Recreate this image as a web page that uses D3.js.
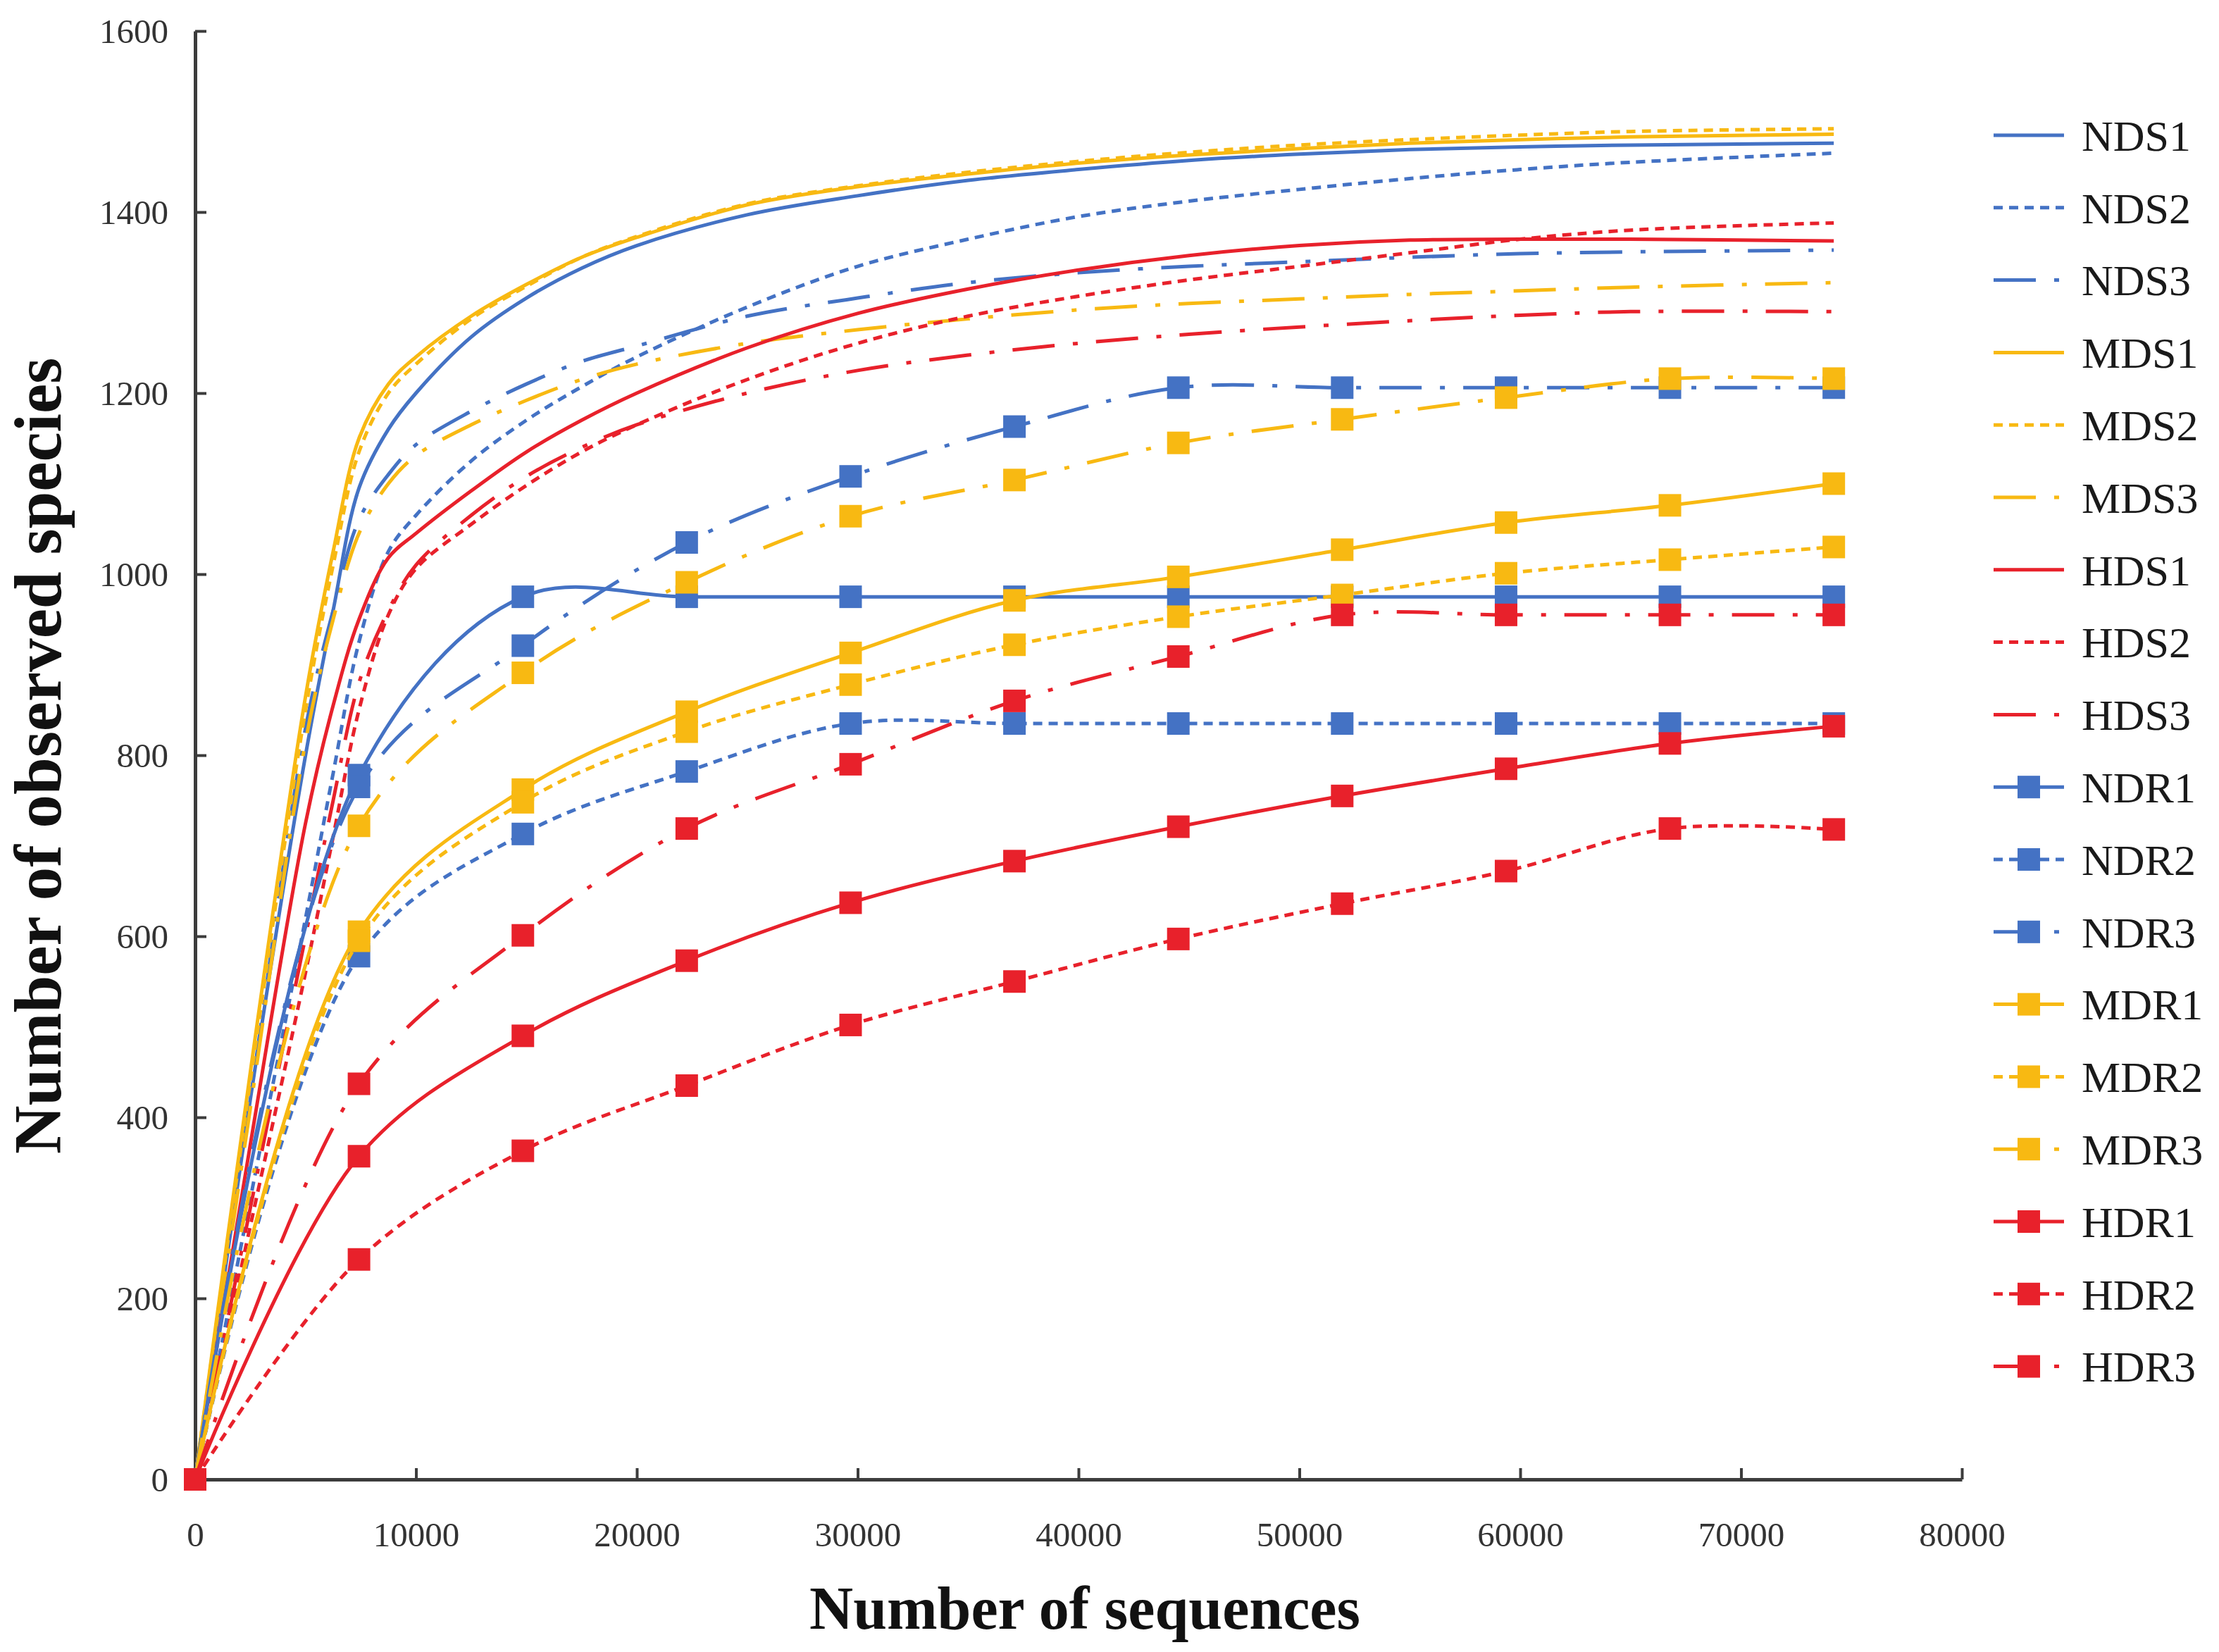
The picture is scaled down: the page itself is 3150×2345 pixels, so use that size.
<!DOCTYPE html>
<html>
<head>
<meta charset="utf-8">
<script src="https://cdn.jsdelivr.net/npm/d3@7"></script>
<style>
  html, body { margin: 0; padding: 0; background: #ffffff; }
  svg { display: block; }
</style>
</head>
<body>
<script>
// ---------------- DATA ----------------
const xTicks = [0, 10000, 20000, 30000, 40000, 50000, 60000, 70000, 80000];
const yTicks = [0, 200, 400, 600, 800, 1000, 1200, 1400, 1600];

// sequencing depths for the smooth (S) curves
const depthS = [0, 2500, 5000, 6250, 7420, 8750, 10000, 12500, 15000, 17500, 20000,
                25000, 30000, 35000, 40000, 45000, 50000, 55000, 60000, 65000, 74200];
// sequencing depths for the marker (R) curves
const depthR = [0, 7420, 14840, 22260, 29680, 37100, 44520, 51940, 59360, 66780, 74200];

const NDS1 = [0, 420, 800, 960, 1095, 1160, 1200, 1262, 1305, 1338, 1363, 1397, 1418, 1435, 1447, 1457, 1464, 1469, 1472, 1474, 1476];
const NDS2 = [0, 310, 620, 780, 925, 1025, 1065, 1125, 1170, 1207, 1240, 1295, 1340, 1370, 1395, 1412, 1425, 1437, 1447, 1455, 1465];
const NDS3 = [0, 420, 830, 960, 1060, 1110, 1143, 1180, 1210, 1235, 1252, 1285, 1305, 1322, 1333, 1340, 1345, 1350, 1354, 1356, 1358];
const MDS1 = [0, 450, 865, 1025, 1150, 1210, 1240, 1285, 1320, 1350, 1372, 1408, 1428, 1442, 1454, 1463, 1470, 1476, 1480, 1483, 1486];
const MDS2 = [0, 440, 850, 1010, 1135, 1200, 1232, 1282, 1318, 1350, 1373, 1409, 1429, 1444, 1456, 1466, 1474, 1480, 1485, 1489, 1492];
const MDS3 = [0, 410, 815, 950, 1045, 1100, 1131, 1165, 1192, 1215, 1232, 1255, 1270, 1282, 1292, 1299, 1304, 1309, 1313, 1317, 1322];
const HDS1 = [0, 370, 725, 855, 950, 1018, 1045, 1092, 1135, 1170, 1200, 1250, 1288, 1315, 1336, 1352, 1363, 1369, 1370, 1370, 1368];
const HDS2 = [0, 280, 560, 710, 850, 955, 1006, 1055, 1098, 1135, 1165, 1215, 1255, 1285, 1307, 1325, 1340, 1355, 1370, 1380, 1388];
const HDS3 = [0, 300, 600, 750, 880, 960, 1010, 1065, 1108, 1140, 1165, 1200, 1225, 1242, 1255, 1265, 1273, 1280, 1286, 1290, 1290];

const NDR1 = [0, 778, 975, 975, 975, 975, 975, 975, 975, 975, 975];
const NDR2 = [0, 578, 713, 782, 835, 835, 835, 835, 835, 835, 835];
const NDR3 = [0, 765, 921, 1035, 1108, 1163, 1206, 1206, 1206, 1206, 1206];
const MDR1 = [0, 605, 762, 848, 913, 971, 997, 1027, 1057, 1076, 1100];
const MDR2 = [0, 595, 748, 826, 878, 922, 953, 977, 1001, 1016, 1030];
const MDR3 = [0, 722, 891, 991, 1064, 1104, 1145, 1171, 1195, 1216, 1216];
const HDR1 = [0, 357, 490, 573, 637, 683, 721, 755, 785, 813, 832];
const HDR2 = [0, 243, 363, 435, 502, 550, 597, 636, 672, 719, 718];
const HDR3 = [0, 437, 601, 719, 790, 860, 909, 955, 955, 955, 955];

const seriesNames = ["NDS1","NDS2","NDS3","MDS1","MDS2","MDS3","HDS1","HDS2","HDS3",
                     "NDR1","NDR2","NDR3","MDR1","MDR2","MDR3","HDR1","HDR2","HDR3"];
const seriesValues = [NDS1, NDS2, NDS3, MDS1, MDS2, MDS3, HDS1, HDS2, HDS3,
                      NDR1, NDR2, NDR3, MDR1, MDR2, MDR3, HDR1, HDR2, HDR3];

// ---------------- STYLE ----------------
const W = 3150, H = 2345;
const colorBy = { N: "#4472c4", M: "#f8b912", H: "#e8212b" };
const dashBy = { "1": null, "2": "13,9", "3": "60,26,7,26" };
const FONT = "'Liberation Serif', 'Times New Roman', serif";

const series = seriesNames.map((name, i) => {
  const isR = name[2] === "R";
  const xs = isR ? depthR : depthS;
  return {
    name,
    marker: isR,
    color: colorBy[name[0]],
    dash: dashBy[name[3]],
    points: xs.map((d, j) => ({ x: d, y: seriesValues[i][j] }))
  };
});

const svg = d3.select("body").append("svg")
  .attr("width", W).attr("height", H)
  .attr("viewBox", `0 0 ${W} ${H}`);

svg.append("rect").attr("width", W).attr("height", H).attr("fill", "#fff");

const x = d3.scaleLinear().domain([0, 80000]).range([277, 2785]);
const y = d3.scaleLinear().domain([0, 1600]).range([2100, 44]);

// ---------------- AXES ----------------
const axisColor = "#3c3c3c";
const xAxis = svg.append("g")
  .attr("transform", `translate(0,${y(0)})`)
  .call(d3.axisBottom(x).tickValues(xTicks).tickFormat(d3.format("d"))
        .tickSizeInner(-16).tickSizeOuter(0).tickPadding(60));
const yAxis = svg.append("g")
  .attr("transform", `translate(${x(0)},0)`)
  .call(d3.axisLeft(y).tickValues(yTicks).tickFormat(d3.format("d"))
        .tickSizeInner(-16).tickSizeOuter(0).tickPadding(38));

[xAxis, yAxis].forEach(g => {
  g.select(".domain").attr("stroke", axisColor).attr("stroke-width", 5);
  g.selectAll(".tick line").attr("stroke", axisColor).attr("stroke-width", 4);
  g.selectAll(".tick text")
    .attr("fill", "#333")
    .style("font-family", FONT)
    .style("font-size", "49px");
});
yAxis.selectAll(".tick text").attr("dy", "0.34em");

// ---------------- LINES ----------------
const line = d3.line()
  .x(d => x(d.x))
  .y(d => y(d.y))
  .curve(d3.curveCatmullRom.alpha(0.5));

const plot = svg.append("g");
series.forEach(s => {
  plot.append("path")
    .datum(s.points)
    .attr("d", line)
    .attr("fill", "none")
    .attr("stroke", s.color)
    .attr("stroke-width", 5)
    .attr("stroke-dasharray", s.dash)
    .attr("stroke-linejoin", "round");
  if (s.marker) {
    plot.selectAll(null)
      .data(s.points)
      .enter().append("rect")
      .attr("x", d => x(d.x) - 16)
      .attr("y", d => y(d.y) - 16)
      .attr("width", 32)
      .attr("height", 32)
      .attr("fill", s.color);
  }
});

// ---------------- AXIS TITLES ----------------
svg.append("text")
  .attr("x", 1540).attr("y", 2312)
  .attr("text-anchor", "middle")
  .style("font-family", FONT)
  .style("font-weight", "bold")
  .style("font-size", "86px")
  .attr("fill", "#111")
  .text("Number of sequences");

svg.append("text")
  .attr("transform", "translate(86,1073) rotate(-90)")
  .attr("text-anchor", "middle")
  .style("font-family", FONT)
  .style("font-weight", "bold")
  .style("font-size", "95px")
  .attr("fill", "#111")
  .text("Number of observed species");

// ---------------- LEGEND ----------------
const legend = svg.append("g");
series.forEach((s, i) => {
  const cy = 192 + i * 102.8;
  const g = legend.append("g").attr("transform", `translate(0,${cy})`);
  g.append("line")
    .attr("x1", 2830).attr("x2", 2930)
    .attr("y1", 0).attr("y2", 0)
    .attr("stroke", s.color)
    .attr("stroke-width", 5)
    .attr("stroke-dasharray", s.dash);
  if (s.marker) {
    g.append("rect")
      .attr("x", 2880 - 16).attr("y", -16)
      .attr("width", 32).attr("height", 32)
      .attr("fill", s.color);
  }
  g.append("text")
    .attr("x", 2955).attr("y", 0).attr("dy", "0.35em")
    .style("font-family", FONT)
    .style("font-size", "62px")
    .attr("fill", "#1a1a1a")
    .text(s.name);
});
</script>
</body>
</html>
